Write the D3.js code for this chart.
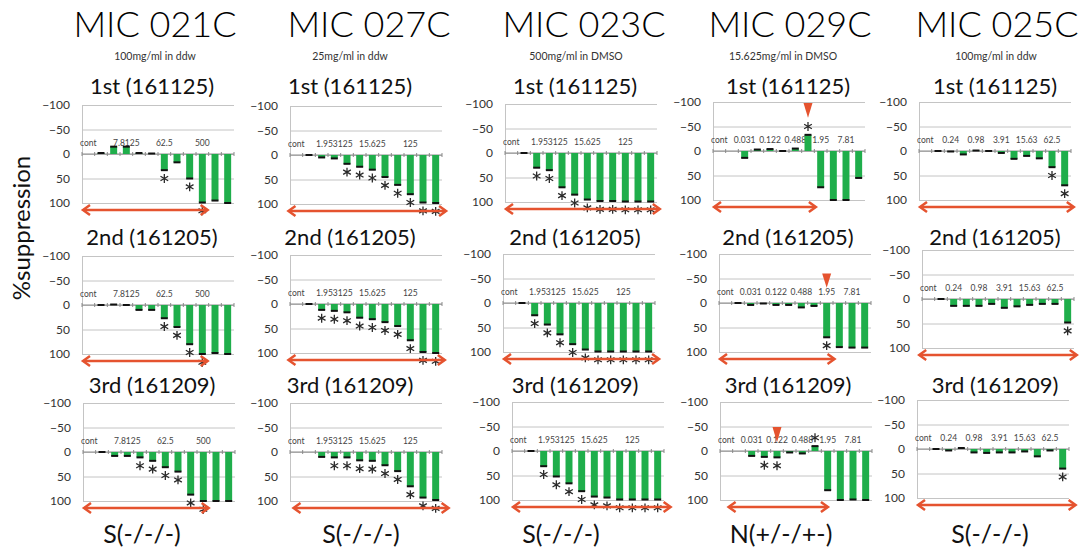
<!DOCTYPE html>
<html>
<head>
<meta charset="utf-8">
<script src="https://cdn.jsdelivr.net/npm/d3@7"></script>
<style>
  body { margin: 0; background: #fff; }
  text { font-family: Lato, "Open Sans", sans-serif; }
</style>
</head>
<body>
<script>
// ---- data ----
const compounds = ["MIC 021C", "MIC 027C", "MIC 023C", "MIC 029C", "MIC 025C"];
const stocks = ["100mg/ml in ddw", "25mg/ml in ddw", "500mg/ml in DMSO", "15.625mg/ml in DMSO", "100mg/ml in ddw"];
const runs = ["1st (161125)", "2nd (161205)", "3rd (161209)"];
const verdicts = ["S(-/-/-)", "S(-/-/-)", "S(-/-/-)", "N(+/-/+-)", "S(-/-/-)"];

const doses021 = ["cont", "", "", "7.8125", "", "", "62.5", "", "", "500", "", ""];
const doses027 = ["cont", "", "", "1.953125", "", "", "15.625", "", "", "125", "", ""];
const doses023 = ["cont", "", "", "1.953125", "", "", "15.625", "", "", "125", "", ""];
const doses029 = ["cont", "", "0.031", "", "0.122", "", "0.488", "", "1.95", "", "7.81", ""];
const doses025 = ["cont", "", "0.24", "", "0.98", "", "3.91", "", "15.63", "", "62.5", ""];

// %suppression per run (1st, 2nd, 3rd); negative = enhancement
const supp021 = [
  [null, -2, -15, -15, -2, -1, 33, 17, 50, 99, 95, 100],
  [null, 0, -1, 0, 10, 10, 27, 45, 80, 100, 98, 100],
  [null, 0, 8, 8, 11, 18, 31, 40, 87, 100, 100, 100]
];
const supp027 = [
  [null, 0, 5, 7, 18, 24, 30, 45, 61, 80, 97, 98],
  [null, 0, 12, 14, 17, 28, 31, 37, 45, 74, 98, 100],
  [null, null, 10, 11, 11, 17, 18, 27, 39, 70, 93, 98]
];
const supp023 = [
  [null, 0, 30, 35, 70, 85, 95, 98, 98, 99, 99, 99],
  [null, 0, 25, 44, 64, 84, 95, 99, 99, 99, 99, 99],
  [null, 0, 31, 52, 66, 82, 93, 95, 99, 99, 99, 99]
];
const supp029 = [
  [null, null, 14, -3, -4, 0, -5, -33, 74, 100, 100, 55],
  [null, 0, 4, 1, 4, 4, 9, 6, 70, 90, 91, 91],
  [null, null, 10, 12, 13, 3, 5, -10, 80, 100, 99, 100]
];
const supp025 = [
  [null, 0, 1, 7, -1, 0, 4, 16, 10, 15, 33, 70],
  [null, 0, 14, 14, 14, 10, 18, 15, 12, 10, 10, 48],
  [null, 0, 3, -2, 7, 8, 7, 7, 5, 15, 3, 40]
];

// significant doses (category index) per run
const sig021 = [[6, 8, 9], [6, 7, 8, 9], [4, 5, 6, 7, 8, 9]];
const sig027 = [[4, 5, 6, 7, 8, 9, 10, 11], [2, 3, 4, 5, 6, 7, 8, 9, 10, 11], [3, 4, 5, 6, 7, 8, 9, 10, 11]];
const sig023 = [[2, 3, 4, 5, 6, 7, 8, 9, 10, 11], [2, 3, 4, 5, 6, 7, 8, 9, 10, 11], [2, 3, 4, 5, 6, 7, 8, 9, 10, 11]];
const sig029 = [[7], [8], [3, 4, 7]];
const sig025 = [[10, 11], [11], [11]];

// red range arrows, [from, to] in category units
const span021 = [[0, 10], [0, 10], [0, 10]];
const span027 = [[-0.2, 12.4], [-0.2, 12.3], [0.2, 12.6]];
const span023 = [[0, 12.3], [0, 12.4], [0, 12.6]];
const span029 = [[0, 8.2], [0, 9.2], [0.6, 8.6]];
const span025 = [[0, 12.3], [-0.3, 12.3], [0, 12.6]];

// red triangle marks on MIC 029C: [category, top value, tip value]
const marks029 = [[7, -98, -68], [8, -60, -31], [4, -49, -18]];

const panels = [
  {doses: doses021, supp: supp021, sig: sig021, span: span021},
  {doses: doses027, supp: supp027, sig: sig027, span: span027},
  {doses: doses023, supp: supp023, sig: sig023, span: span023},
  {doses: doses029, supp: supp029, sig: sig029, span: span029, marks: marks029},
  {doses: doses025, supp: supp025, sig: sig025, span: span025}
];

// ---- layout ----
const width = 1080, height = 551;
const plotW = 152, plotH = 98;
const panelX = [[82, 82, 83], [290, 290, 290], [505, 503, 512], [713, 719, 720], [919, 922, 917]];
const panelY = [[105, 256, 403], [106, 255, 403], [104, 254, 402], [102, 254, 402], [102, 250, 400]];
const titleX = [155, 369, 584, 790, 997];
const stockX = [155, 350, 576, 783, 996];
const runX = [152, 350, 575, 788, 995];
const runY = [94, 245, 393];
const verdictX = [142, 361, 561, 781, 990];

const green = "#1fae4b", red = "#e5532f";
const star = d3.symbol(d3.symbolAsterisk, 55);

const svg = d3.select("body").append("svg")
    .attr("width", width)
    .attr("height", height)
    .attr("viewBox", [0, 0, width, height]);

svg.append("text")
    .attr("transform", "translate(30,228) rotate(-90)")
    .attr("text-anchor", "middle")
    .attr("font-size", 24)
    .attr("fill", "#111")
    .text("%suppression");

compounds.forEach((name, c) => {
  svg.append("text")
      .attr("x", titleX[c]).attr("y", 37)
      .attr("text-anchor", "middle")
      .attr("font-size", 36)
      .attr("font-weight", 300)
      .attr("fill", "#000")
      .text(name);

  svg.append("text")
      .attr("x", stockX[c]).attr("y", 60)
      .attr("text-anchor", "middle")
      .attr("font-size", 10.5)
      .attr("fill", "#333")
      .text(stocks[c]);

  svg.append("text")
      .attr("x", verdictX[c]).attr("y", 543)
      .attr("text-anchor", "middle")
      .attr("font-size", 25)
      .attr("fill", "#111")
      .text(verdicts[c]);

  const p = panels[c];

  runs.forEach((run, r) => {
    const x0 = panelX[c][r], y0 = panelY[c][r];
    const x = d3.scaleBand(d3.range(12), [x0, x0 + plotW])
        .paddingInner(0.45)
        .paddingOuter(0.225);
    const xc = d3.scaleLinear([0, 12], [x0, x0 + plotW]);
    const y = d3.scaleLinear([-100, 100], [y0, y0 + plotH]);
    const g = svg.append("g");

    svg.append("text")
        .attr("x", runX[c]).attr("y", runY[r])
        .attr("text-anchor", "middle")
        .attr("font-size", 22)
        .attr("fill", "#111")
        .text(run);

    // y axis
    g.append("g")
        .attr("transform", `translate(${x0},0)`)
        .call(d3.axisLeft(y).tickValues([-100, -50, 0, 50, 100]).tickSize(-plotW).tickPadding(12))
        .call(a => a.select(".domain").attr("stroke", "#c4c4c4"))
        .call(a => a.selectAll(".tick line").attr("stroke", "#c4c4c4").attr("stroke-width", 1))
        .call(a => a.selectAll(".tick text")
            .attr("font-family", "'Liberation Sans', Arial, sans-serif")
            .attr("font-size", 12)
            .attr("fill", "#333"));

    // zero line with category ticks
    g.append("line")
        .attr("x1", x0).attr("x2", x0 + plotW)
        .attr("y1", y(0)).attr("y2", y(0))
        .attr("stroke", "#8a8a8a");
    g.append("g")
      .selectAll("line")
      .data(d3.range(13))
      .join("line")
        .attr("x1", d => xc(d)).attr("x2", d => xc(d))
        .attr("y1", y(0) - 2).attr("y2", y(0) + 2)
        .attr("stroke", "#8a8a8a");

    // dose labels
    g.append("g")
      .selectAll("text")
      .data(p.doses.map((d, i) => [i, d]).filter(d => d[1]))
      .join("text")
        .attr("x", d => x(d[0]) + x.bandwidth() / 2)
        .attr("y", y(0) - 8)
        .attr("text-anchor", "middle")
        .attr("font-family", "'Liberation Sans', Arial, sans-serif")
        .attr("font-size", 8.5)
        .attr("fill", "#444")
        .text(d => d[1]);

    const vals = p.supp[r].map((v, i) => [i, v]).filter(d => d[1] != null);

    g.append("g")
        .attr("fill", green)
      .selectAll("rect")
      .data(vals)
      .join("rect")
        .attr("x", d => x(d[0]))
        .attr("width", x.bandwidth())
        .attr("y", d => Math.min(y(0), y(d[1])))
        .attr("height", d => Math.abs(y(d[1]) - y(0)));

    g.append("g")
        .attr("stroke", "#111")
        .attr("stroke-width", 2)
      .selectAll("line")
      .data(vals)
      .join("line")
        .attr("x1", d => x(d[0]))
        .attr("x2", d => x(d[0]) + x.bandwidth())
        .attr("y1", d => y(d[1]))
        .attr("y2", d => y(d[1]));

    // significance stars
    g.append("g")
        .attr("fill", "none")
        .attr("stroke", "#2a2a2a")
        .attr("stroke-width", 1.3)
      .selectAll("path")
      .data(p.sig[r])
      .join("path")
        .attr("transform", d => {
          const v = p.supp[r][d];
          return `translate(${x(d) + x.bandwidth() / 2},${y(v < 0 ? v - 17 : v + 17)})`;
        })
        .attr("d", star);

    // red range arrow
    const [a0, a1] = p.span[r];
    const ay = y(100) + 7;
    const ax0 = xc(a0), ax1 = xc(a1);
    const arrow = g.append("g")
        .attr("fill", "none")
        .attr("stroke", red)
        .attr("stroke-width", 2.5)
        .attr("stroke-linejoin", "miter");
    arrow.append("line").attr("x1", ax0 + 2).attr("x2", ax1 - 2).attr("y1", ay).attr("y2", ay);
    arrow.append("path").attr("d", `M${ax0 + 8},${ay - 5}L${ax0 + 1},${ay}L${ax0 + 8},${ay + 5}`);
    arrow.append("path").attr("d", `M${ax1 - 8},${ay - 5}L${ax1 - 1},${ay}L${ax1 - 8},${ay + 5}`);

    if (p.marks) {
      const [cat, top, tip] = p.marks[r];
      const mx = x(cat) + x.bandwidth() / 2;
      g.append("path")
          .attr("d", `M${mx - 4.5},${y(top)}L${mx + 4.5},${y(top)}L${mx},${y(tip)}Z`)
          .attr("fill", red);
    }
  });
});
</script>
</body>
</html>
